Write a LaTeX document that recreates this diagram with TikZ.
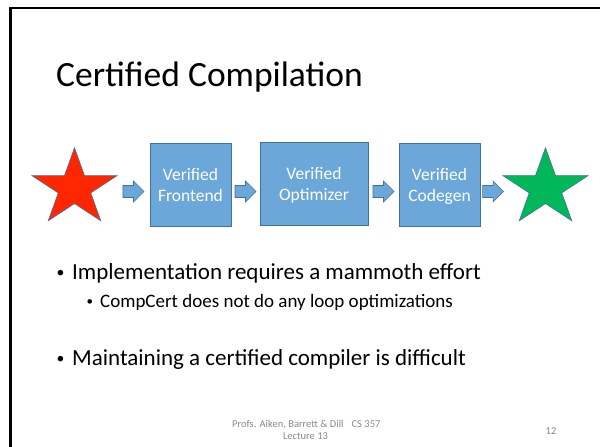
\documentclass[tikz,border=0pt]{standalone}
\usepackage{fontspec}
\usepackage{graphicx}
\setmainfont{Carlito}
\usetikzlibrary{calc}
\definecolor{boxblue}{RGB}{108,167,217}
\definecolor{boxedge}{RGB}{65,113,156}
\definecolor{starred}{RGB}{255,38,0}
\definecolor{stargreen}{RGB}{0,184,90}
\definecolor{footgray}{RGB}{137,137,137}
\tikzset{
  stepbox/.style={rectangle, fill=boxblue, draw=boxedge, line width=0.6pt, inner sep=0pt,
    text=white, align=center, text depth=0pt, font=\fontsize{17.5}{21}\selectfont},
  starbox/.style={rectangle, inner sep=0pt, minimum width=85pt, minimum height=73pt},
  starline/.style={draw=boxedge, line width=0.6pt, line join=miter},
  arrowfill/.style={fill=boxblue, draw=boxedge, line width=0.6pt},
  blockarrow/.pic={\path[arrowfill] (-10.5,-6) -- (0,-6) -- (0,-10.5) -- (10.5,0) -- (0,10.5) -- (0,6) -- (-10.5,6) -- cycle;},
  bulletA/.style={anchor=base west, inner sep=0pt, font=\fontsize{23}{27}\selectfont},
  bulletB/.style={anchor=base west, inner sep=0pt, font=\fontsize{19}{23}\selectfont},
  foot/.style={inner sep=0pt, text=footgray, font=\fontsize{10.5}{12}\selectfont}
}
\newcommand{\starpath}[1]{%
  \path[starline, fill=#1] (-90:1) \foreach \k in {0,...,4}{ -- ({-90+72*\k}:1) -- ({-54+72*\k}:0.382)} -- cycle;}
\newcommand{\smallbul}[1]{\raisebox{#1}{\scalebox{0.68}{•}}}
\begin{document}
\begin{tikzpicture}[x=1pt,y=-1pt]
\useasboundingbox (0,0) rectangle (600,447);
\draw[line width=2.2pt] (10.5,447) -- (10.5,8) -- (600,8);
\node[anchor=base west, inner sep=0pt, font=\fontsize{35.5}{40}\selectfont] (title) at (56,86) {Certified Compilation};
% stars
\node[starbox] (s1) at (74.5,184.5) {};
\node[starbox] (s2) at (545.5,184.5) {};
\begin{scope}[shift={($(s1.north)+(0,40.35)$)}, xscale=44.7, yscale=40.35]
  \starpath{starred}
\end{scope}
\begin{scope}[shift={($(s2.north)+(0,40.35)$)}, xscale=44.7, yscale=40.35]
  \starpath{stargreen}
\end{scope}
% boxes
\node[stepbox, minimum width=81pt, minimum height=83pt] (b1) at (190.5,184.5) {Verified\\Frontend};
\node[stepbox, minimum width=108pt, minimum height=83pt] (b2) at (314,183.5) {Verified\\Optimizer};
\node[stepbox, minimum width=81pt, minimum height=83pt] (b3) at (439.5,184.5) {Verified\\Codegen};
% block arrows
\pic (a1) at ($(s1.east)!0.5!(b1.west)+(0,7)$) {blockarrow};
\pic (a2) at ($(b1.east)!0.5!(b2.west)+(0,7.5)$) {blockarrow};
\pic (a3) at ($(b2.east)!0.5!(b3.west)+(0,7.5)$) {blockarrow};
\pic (a4) at ($(b3.east)!0.5!(s2.west)+(1.5,7)$) {blockarrow};
% bullets
\node[bulletA] (l1) at (56.5,279) {\makebox[15.5pt][l]{\smallbul{1.7pt}}Implementation requires a mammoth effort};
\node[bulletB] (l2) at (86.5,307) {\makebox[13.5pt][l]{\smallbul{1.4pt}}CompCert does not do any loop optimizations};
\node[bulletA] (l3) at (56.5,365) {\makebox[15.5pt][l]{\smallbul{1.7pt}}Maintaining a certified compiler is difficult};
% footer
\node[foot, anchor=base west] (f1) at (232,427) {Profs. Aiken, Barrett \& Dill\hspace{8pt}CS 357};
\node[foot, anchor=base] (f2) at (305.5,439) {Lecture 13};
\node[foot, anchor=base] (pg) at (551,434) {12};
\end{tikzpicture}
\end{document}
